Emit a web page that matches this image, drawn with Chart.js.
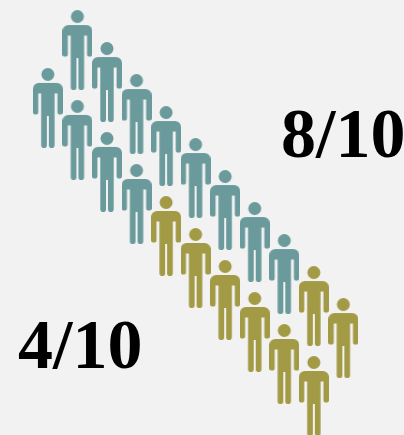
<!DOCTYPE html>
<html>
<head>
<meta charset="utf-8">
<script src="https://cdn.jsdelivr.net/npm/chart.js@4"></script>
<style>
  html, body { margin: 0; padding: 0; background: #f2f2f2; }
  #wrap { position: relative; width: 404px; height: 435px; overflow: hidden; }
  .score { position: absolute; font: bold 70px "Liberation Serif", serif; line-height: 80px; color: #000; white-space: nowrap; }
</style>
</head>
<body>
<div id="wrap">
  <canvas id="chart" width="404" height="435"></canvas>
  <div class="score" id="scoreTop" style="left:281px;top:94px"></div>
  <div class="score" id="scoreBottom" style="left:18px;top:305px"></div>
</div>
<script>
  // the two rows of people, in "person" units
  const topX = [1, 2, 3, 4, 5, 6, 7, 8, 9, 10];
  const topY = [1, 2, 3, 4, 5, 6, 7, 8, 9, 10];
  const bottomX = [0, 1, 2, 3, 4, 5, 6, 7, 8, 9];
  const bottomY = [2.81, 3.81, 4.81, 5.81, 6.81, 7.81, 8.81, 9.81, 10.81, 11.81];
  const topHits = 8;
  const bottomHits = 4;
  const total = 10;

  const teal = '#6a9a9b';
  const olive = '#a39a45';

  // one person icon on its own canvas, used as the pointStyle
  function person(color) {
    const c = document.createElement('canvas');
    c.width = 30;
    c.height = 80;
    const g = c.getContext('2d');
    g.fillStyle = color;
    g.beginPath();
    g.arc(15, 6.5, 6.5, 0, Math.PI * 2);
    g.fill();
    g.beginPath();
    g.roundRect(0, 15, 30, 10.5, [6, 6, 0, 0]);
    g.roundRect(0, 22, 5.4, 24.5, [0, 0, 2.6, 2.6]);
    g.roundRect(24.6, 22, 5.4, 24.5, [0, 0, 2.6, 2.6]);
    g.rect(8.3, 22, 13.4, 26);
    g.roundRect(8.3, 40, 5.7, 40, [0, 0, 2.8, 2.8]);
    g.roundRect(16, 40, 5.7, 40, [0, 0, 2.8, 2.8]);
    g.fill('nonzero');
    return c;
  }
  const tealPerson = person(teal);
  const olivePerson = person(olive);

  const toPoints = (xs, ys) => xs.map((x, i) => ({ x, y: ys[i] }));

  new Chart(document.getElementById('chart'), {
    type: 'scatter',
    data: {
      datasets: [
        { data: toPoints(topX, topY), pointStyle: ctx => ctx.dataIndex < topHits ? tealPerson : olivePerson },
        { data: toPoints(bottomX, bottomY), pointStyle: ctx => ctx.dataIndex < bottomHits ? tealPerson : olivePerson }
      ]
    },
    options: {
      responsive: false,
      animation: false,
      layout: { padding: 0, autoPadding: false },
      plugins: { legend: { display: false }, tooltip: { enabled: false } },
      scales: {
        x: { display: false, min: -1.62, max: 12.052 },
        y: { display: false, reverse: true, min: -0.5625, max: 13.03 }
      }
    }
  });

  document.getElementById('scoreTop').textContent = topHits + '/' + total;
  document.getElementById('scoreBottom').textContent = bottomHits + '/' + total;
</script>
</body>
</html>
